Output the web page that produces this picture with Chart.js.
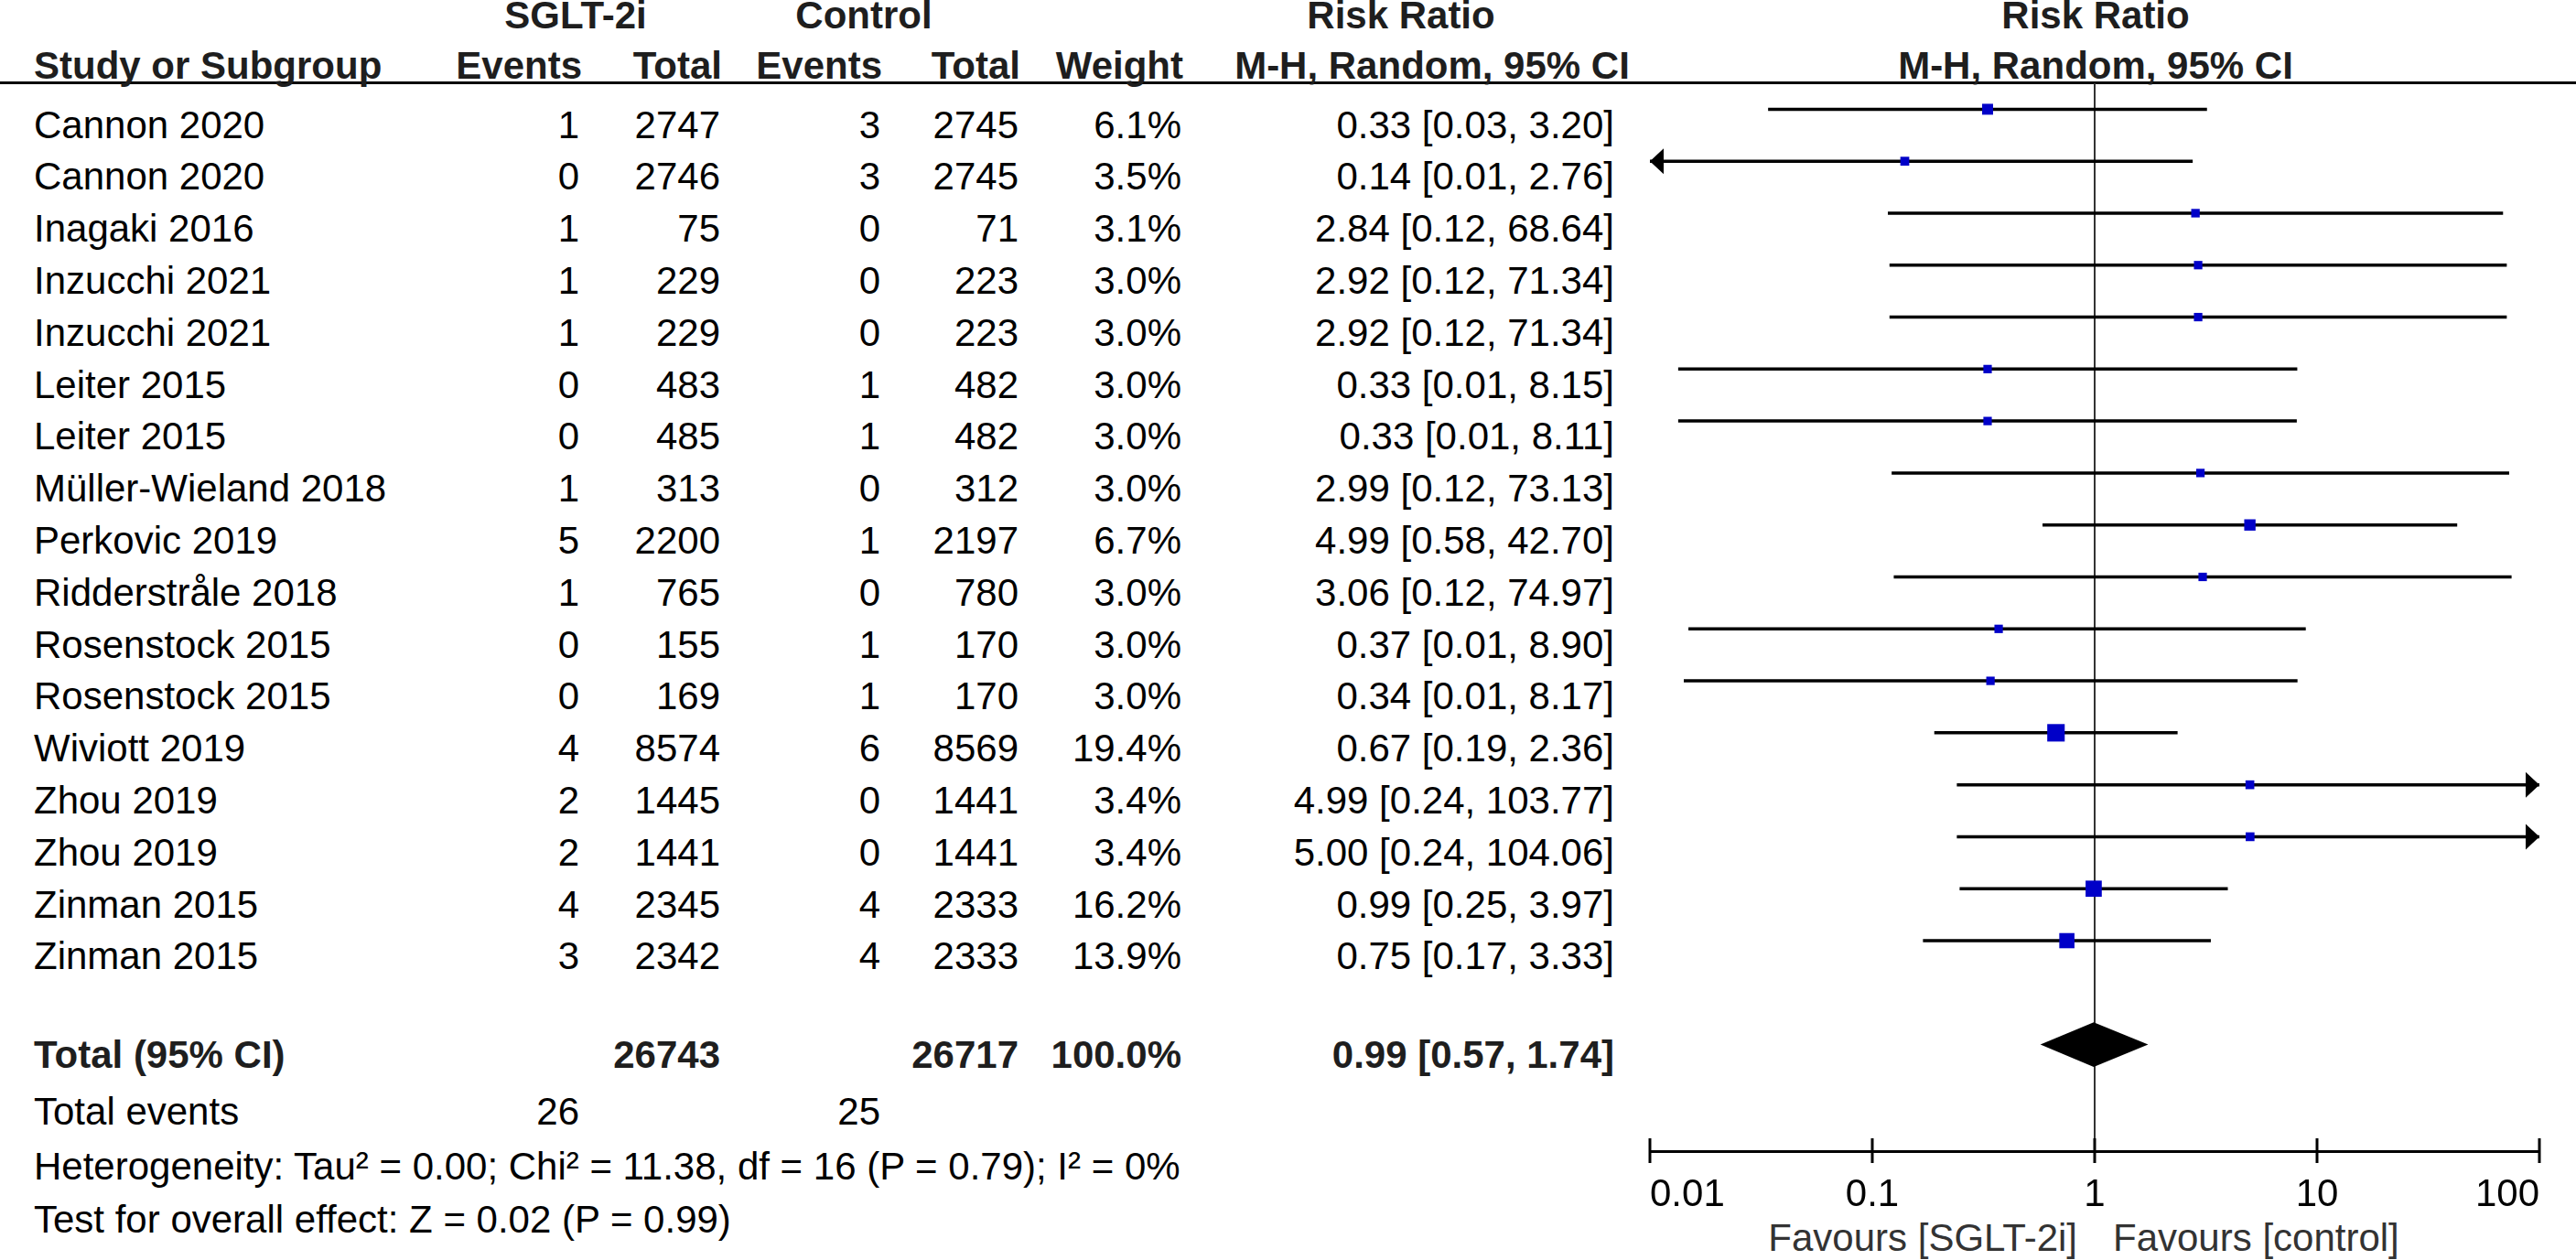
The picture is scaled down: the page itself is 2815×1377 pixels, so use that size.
<!DOCTYPE html>
<html>
<head>
<meta charset="utf-8">
<title>Forest plot</title>
<script src="https://cdn.jsdelivr.net/npm/chart.js@4.4.1/dist/chart.umd.min.js"></script>
<style>
  html, body { margin: 0; padding: 0; background: #fff; }
  body { width: 2815px; height: 1377px; position: relative; overflow: hidden;
         font-family: "Liberation Sans", Arial, sans-serif; }
  .t { position: absolute; font-size: 42px; line-height: 50px; white-space: nowrap; color: #000; }
  .b { font-weight: bold; color: #1e1e1e; }
  .fav { color: #333; }
  #rule { position: absolute; left: 0; top: 89px; width: 2815px; height: 3px; background: #000; }
  #plot { position: absolute; left: 1780px; top: 0; width: 1035px; height: 1377px; }
</style>
</head>
<body>
<div id="rule"></div>
<div id="text"></div>
<div id="plot"><canvas id="forest"></canvas></div>
<script>
const studies = ['Cannon 2020', 'Cannon 2020', 'Inagaki 2016', 'Inzucchi 2021', 'Inzucchi 2021',
  'Leiter 2015', 'Leiter 2015', 'Müller-Wieland 2018', 'Perkovic 2019', 'Ridderstråle 2018',
  'Rosenstock 2015', 'Rosenstock 2015', 'Wiviott 2019', 'Zhou 2019', 'Zhou 2019',
  'Zinman 2015', 'Zinman 2015'];
const sgltEvents = [1, 0, 1, 1, 1, 0, 0, 1, 5, 1, 0, 0, 4, 2, 2, 4, 3];
const sgltTotal = [2747, 2746, 75, 229, 229, 483, 485, 313, 2200, 765, 155, 169, 8574, 1445, 1441, 2345, 2342];
const ctrlEvents = [3, 3, 0, 0, 0, 1, 1, 0, 1, 0, 1, 1, 6, 0, 0, 4, 4];
const ctrlTotal = [2745, 2745, 71, 223, 223, 482, 482, 312, 2197, 780, 170, 170, 8569, 1441, 1441, 2333, 2333];
const weights = [6.1, 3.5, 3.1, 3.0, 3.0, 3.0, 3.0, 3.0, 6.7, 3.0, 3.0, 3.0, 19.4, 3.4, 3.4, 16.2, 13.9];
const riskRatio = [0.33, 0.14, 2.84, 2.92, 2.92, 0.33, 0.33, 2.99, 4.99, 3.06, 0.37, 0.34, 0.67, 4.99, 5.00, 0.99, 0.75];
// lower limits (the printed ones are rounded)
const ciLow = [0.034, 0.007, 0.1175, 0.1195, 0.1195, 0.0134, 0.0134, 0.1222, 0.583, 0.1249, 0.0149, 0.0142, 0.19, 0.24, 0.24, 0.247, 0.169];
const ciHigh = [3.20, 2.76, 68.64, 71.34, 71.34, 8.15, 8.11, 73.13, 42.70, 74.97, 8.90, 8.17, 2.36, 103.77, 104.06, 3.97, 3.33];

const totalN = [26743, 26717];
const totalEvents = [26, 25];
const pooled = [0.57, 0.99, 1.74];   // lower, estimate, upper
const pooledRow = 18;
const heterogeneity = 'Heterogeneity: Tau² = 0.00; Chi² = 11.38, df = 16 (P = 0.79); I² = 0%';
const overallTest = 'Test for overall effect: Z = 0.02 (P = 0.99)';

const tickVals = [0.01, 0.1, 1, 10, 100];
const tickLabels = ['0.01', '0.1', '1', '10', '100'];

// ---- table text ----
const textBox = document.getElementById('text');
function put(str, x, cy, align, cls) {
  const d = document.createElement('div');
  d.className = 't' + (cls ? ' ' + cls : '');
  d.textContent = str;
  d.style.top = (cy - 25) + 'px';
  if (align === 'right') d.style.right = (2815 - x) + 'px';
  else if (align === 'center') { d.style.left = x + 'px'; d.style.transform = 'translateX(-50%)'; }
  else d.style.left = x + 'px';
  textBox.appendChild(d);
}

put('SGLT-2i', 629, 17, 'center', 'b');
put('Control', 944, 17, 'center', 'b');
put('Risk Ratio', 1531, 17, 'center', 'b');
put('Risk Ratio', 2290, 17, 'center', 'b');
put('Study or Subgroup', 37, 72, 'left', 'b');
put('Events', 636, 72, 'right', 'b');
put('Total', 789, 72, 'right', 'b');
put('Events', 964, 72, 'right', 'b');
put('Total', 1115, 72, 'right', 'b');
put('Weight', 1293, 72, 'right', 'b');
put('M-H, Random, 95% CI', 1565, 72, 'center', 'b');
put('M-H, Random, 95% CI', 2290, 72, 'center', 'b');

studies.forEach((name, i) => {
  const cy = 136.5 + 56.8 * i;
  put(name, 37, cy, 'left');
  put(String(sgltEvents[i]), 633, cy, 'right');
  put(String(sgltTotal[i]), 787, cy, 'right');
  put(String(ctrlEvents[i]), 962, cy, 'right');
  put(String(ctrlTotal[i]), 1113, cy, 'right');
  put(weights[i].toFixed(1) + '%', 1291, cy, 'right');
  put(riskRatio[i].toFixed(2) + ' [' + ciLow[i].toFixed(2) + ', ' + ciHigh[i].toFixed(2) + ']', 1764, cy, 'right');
});

const totalWeight = weights.reduce((a, b) => a + b, 0);
put('Total (95% CI)', 37, 1153, 'left', 'b');
put(String(totalN[0]), 787, 1153, 'right', 'b');
put(String(totalN[1]), 1113, 1153, 'right', 'b');
put(Math.round(totalWeight).toFixed(1) + '%', 1291, 1153, 'right', 'b');
put(pooled[1].toFixed(2) + ' [' + pooled[0].toFixed(2) + ', ' + pooled[2].toFixed(2) + ']', 1764, 1153, 'right', 'b');
put('Total events', 37, 1215, 'left');
put(String(totalEvents[0]), 633, 1215, 'right');
put(String(totalEvents[1]), 962, 1215, 'right');
put(heterogeneity, 37, 1275, 'left');
put(overallTest, 37, 1333, 'left');
put('Favours [SGLT-2i]', 2270, 1353, 'right', 'fav');
put('Favours [control]', 2309, 1353, 'left', 'fav');

// ---- plot ----
const rows = studies.map((_, i) => i);
const ciPoints = [];
rows.forEach(i => {
  ciPoints.push({ x: ciLow[i], y: i }, { x: ciHigh[i], y: i }, { x: riskRatio[i], y: null });
});
const squarePoints = rows.map(i => ({ x: riskRatio[i], y: i }));
const squareRadius = weights.map(w => (3.7 * Math.sqrt(w) + 2.8) / Math.SQRT2);

const forestExtras = {
  id: 'forestExtras',
  afterDatasetsDraw(chart) {
    const { ctx, scales: { x, y } } = chart;
    ctx.save();
    ctx.fillStyle = '#000';
    // arrows for intervals running off the axis
    rows.forEach(i => {
      const py = y.getPixelForValue(i);
      if (ciLow[i] < x.min) {
        const tip = x.getPixelForValue(x.min);
        ctx.beginPath();
        ctx.moveTo(tip, py);
        ctx.lineTo(tip + 15, py - 14);
        ctx.lineTo(tip + 15, py + 14);
        ctx.closePath();
        ctx.fill();
      }
      if (ciHigh[i] > x.max) {
        const tip = x.getPixelForValue(x.max);
        ctx.beginPath();
        ctx.moveTo(tip, py);
        ctx.lineTo(tip - 15, py - 14);
        ctx.lineTo(tip - 15, py + 14);
        ctx.closePath();
        ctx.fill();
      }
    });
    // pooled diamond
    const cy = y.getPixelForValue(pooledRow);
    const half = y.getPixelForValue(pooledRow + 0.43) - cy;
    ctx.beginPath();
    ctx.moveTo(x.getPixelForValue(pooled[0]), cy);
    ctx.lineTo(x.getPixelForValue(pooled[1]), cy - half);
    ctx.lineTo(x.getPixelForValue(pooled[2]), cy);
    ctx.lineTo(x.getPixelForValue(pooled[1]), cy + half);
    ctx.closePath();
    ctx.fill();
    ctx.restore();
  },
  afterDraw(chart) {
    // tick marks crossing the axis line
    const { ctx, scales: { x }, chartArea } = chart;
    ctx.save();
    ctx.strokeStyle = '#000';
    ctx.lineWidth = 3;
    x.ticks.forEach(t => {
      const px = x.getPixelForValue(t.value);
      ctx.beginPath();
      ctx.moveTo(px, chartArea.bottom - 14);
      ctx.lineTo(px, chartArea.bottom + 13);
      ctx.stroke();
    });
    ctx.restore();
  }
};

new Chart(document.getElementById('forest').getContext('2d'), {
  type: 'scatter',
  data: {
    datasets: [
      {
        label: 'Risk ratio',
        data: squarePoints,
        pointStyle: 'rect',
        pointRadius: squareRadius,
        backgroundColor: '#0000c8',
        borderWidth: 0
      },
      {
        label: '95% CI',
        type: 'line',
        data: ciPoints,
        borderColor: '#000',
        borderWidth: 3.5,
        pointRadius: 0,
        spanGaps: false,
        fill: false
      }
    ]
  },
  options: {
    responsive: true,
    maintainAspectRatio: false,
    animation: false,
    events: [],
    layout: { padding: { left: 22, right: 40, top: 91, bottom: 0 } },
    plugins: { legend: { display: false }, tooltip: { enabled: false } },
    scales: {
      x: {
        type: 'logarithmic',
        min: 0.01,
        max: 100,
        afterBuildTicks: scale => { scale.ticks = tickVals.map(v => ({ value: v })); },
        afterFit: scale => { scale.height = 119; },
        border: { display: true, color: '#000', width: 3 },
        grid: {
          drawTicks: false,
          lineWidth: 2,
          color: c => (c.tick && c.tick.value === 1 ? '#333' : 'rgba(0,0,0,0)')
        },
        ticks: {
          align: 'inner',
          padding: 23,
          color: '#000',
          font: { family: 'Liberation Sans', size: 42 },
          callback: (v, idx) => tickLabels[idx]
        }
      },
      y: {
        type: 'linear',
        display: false,
        reverse: true,
        min: -0.5,
        max: 20.05
      }
    }
  },
  plugins: [forestExtras]
});
</script>
</body>
</html>
